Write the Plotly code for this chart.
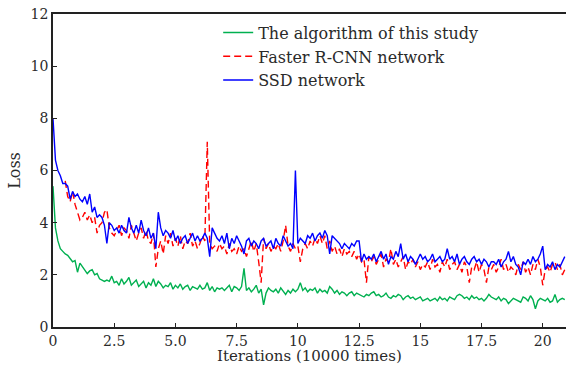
import plotly.graph_objects as go

# ---- data ----
step = 0.1
green_loss = [
    5.4, 3.8, 3.3, 3.0, 2.9, 2.8, 2.75, 2.6, 2.5, 2.55,
    2.1, 2.45, 2.3, 2.2, 2.05, 2.15, 2.2, 2.0, 2.05, 1.85,
    1.8, 1.75, 1.8, 1.75, 1.95, 1.7, 1.75, 1.6, 1.85, 1.65,
    1.75, 1.9, 1.6, 1.7, 1.8, 1.55, 1.65, 1.75, 1.5, 1.7,
    1.6, 1.85, 1.55, 1.75, 1.65, 1.5, 1.6, 1.55, 1.7, 1.45,
    1.6, 1.5, 1.65, 1.45, 1.55, 1.6, 1.4, 1.55, 1.5, 1.45,
    1.6, 1.45, 1.5, 1.7, 1.4, 1.55, 1.35, 1.5, 1.45, 1.5,
    1.4, 1.5, 1.6, 1.35, 1.55, 1.5, 1.4, 1.55, 2.25, 1.4,
    1.5, 1.35, 1.45, 1.6, 1.3, 1.45, 0.85, 1.3, 1.5, 1.4,
    1.35, 1.45, 1.3, 1.5, 1.35, 1.25, 1.4, 1.3, 1.45, 1.35,
    1.45, 1.7, 1.4, 1.5, 1.35, 1.45, 1.4, 1.5, 1.3, 1.45,
    1.35, 1.4, 1.3, 1.55, 1.45, 1.3, 1.4, 1.25, 1.35, 1.3,
    1.2, 1.3, 1.35, 1.2, 1.3, 1.25, 1.2, 1.15, 1.25, 1.2,
    1.3, 1.35, 1.2, 1.25, 1.15, 1.2, 1.3, 1.15, 1.1, 1.2,
    1.15, 1.25, 1.2, 1.05, 1.15, 1.2, 1.1, 1.15, 1.05, 1.1,
    1.15, 1.0, 1.05, 1.1, 1.0, 1.05, 1.1, 1.0, 1.15, 1.05,
    1.1, 1.0, 1.15, 1.1, 1.05, 1.2, 1.25, 1.2, 1.1, 1.15,
    1.05, 1.2, 1.1, 1.15, 1.05, 1.1, 1.0, 1.1, 1.25, 1.15,
    1.1, 1.05, 1.15, 1.0, 1.1, 1.05, 0.9, 1.0, 1.1, 1.05,
    1.0, 0.95, 1.15, 1.1, 1.0, 1.2, 1.05, 0.7, 1.0, 1.1,
    1.05, 1.0, 1.1, 0.95, 1.0, 1.25, 0.95, 1.05, 1.1, 1.05,
]
faster_start = 0.5
faster_loss = [
    5.6, 5.0, 4.8, 5.2, 4.7,
    4.4, 4.1, 4.2, 4.4, 4.1, 4.3, 4.0, 4.2, 3.6, 3.9,
    4.0, 4.4, 4.5, 3.8, 3.6, 3.5, 3.7, 3.9, 3.5, 3.8,
    3.7, 3.4, 3.9, 3.6, 3.3, 3.6, 3.8, 3.4, 3.7, 3.3,
    3.2, 3.6, 2.3, 3.0, 3.3, 2.8, 3.5, 3.2, 3.6, 3.1,
    3.4, 3.1, 3.5, 3.0, 3.3, 3.2, 3.6, 3.1, 3.3, 3.0,
    3.2, 3.5, 3.3, 7.1, 3.2, 3.0, 3.1, 2.9, 3.2, 3.0,
    3.1, 2.8, 3.2, 2.9, 3.0, 2.8, 3.1, 2.9, 3.0, 2.7,
    3.0, 3.3, 2.9, 3.2, 2.5, 1.7, 3.4, 3.0, 3.2, 2.9,
    3.1, 3.0, 3.2, 2.9, 3.3, 3.9, 3.1, 2.9, 3.2, 3.0,
    3.1, 2.5, 3.0, 3.2, 3.0, 3.3, 3.1, 3.4, 3.2, 3.5,
    3.2, 3.5, 3.0, 3.3, 2.9, 3.1, 2.8, 3.0, 2.7, 3.0,
    2.8, 2.9, 2.7, 2.9, 2.6, 2.8, 2.5, 2.6, 1.7, 2.7,
    2.5, 2.7, 2.4, 2.6, 2.8, 2.3, 2.6, 2.5, 3.0, 2.4,
    2.6, 2.3, 2.5, 2.7, 2.2, 2.5, 2.4, 2.6, 2.3, 2.5,
    2.2, 2.4, 2.3, 2.5, 2.2, 2.6, 2.3, 2.4, 2.1, 2.5,
    2.3, 2.6, 2.2, 2.4, 2.5, 2.2, 2.4, 2.1, 2.5, 2.3,
    1.7, 2.3, 2.2, 2.5, 2.1, 2.4, 2.2, 1.7, 2.3, 2.2,
    2.4, 2.1, 2.3, 2.6, 2.2, 2.4, 2.1, 2.3, 2.2, 2.0,
    2.4, 2.2, 2.5, 2.1, 2.3, 2.0, 2.4, 2.2, 2.6, 2.3,
    1.6, 2.2, 2.3, 2.1, 2.4, 2.5, 2.2, 2.4, 2.0, 2.2,
]
ssd_loss = [
    8.0, 6.4, 6.0, 5.8, 5.5, 5.5, 5.4, 4.9, 5.2, 5.0,
    5.1, 4.9, 4.8, 5.0, 4.7, 5.1, 4.4, 4.6, 4.2, 4.3,
    4.2, 3.9, 3.2, 4.0, 3.9, 3.7, 3.8, 3.6, 3.9, 3.7,
    3.6, 4.2, 3.8, 3.6, 3.9, 3.6, 4.1, 3.7, 3.5, 3.8,
    3.4, 3.6, 3.0, 4.4, 3.8, 3.5, 3.7, 3.6, 3.4, 3.7,
    3.3, 3.5, 3.2, 3.4, 3.5, 3.2, 3.4, 3.6, 3.3, 3.5,
    3.3, 3.4, 3.6, 3.4, 2.7, 3.8, 3.6, 3.4, 3.3, 3.5,
    3.2, 3.6, 3.0, 3.4, 3.2, 3.5, 3.3, 3.1, 2.8, 3.3,
    3.4, 3.1, 3.3, 3.2, 3.0, 3.3, 3.4, 3.1, 3.2, 3.3,
    3.0, 3.4, 3.2, 3.1, 3.5, 3.3, 3.1, 3.2, 3.0, 6.0,
    3.2, 3.4, 3.3, 3.2, 3.5, 3.4, 3.6, 3.3, 3.5, 3.6,
    3.4, 3.7, 3.5, 2.8, 3.5, 3.4, 3.3, 3.2, 3.0, 3.2,
    3.1, 3.0, 3.2, 3.1, 3.3, 3.3, 2.5, 2.8, 2.6, 2.7,
    2.6, 2.8, 2.5, 2.7, 2.9, 2.6, 2.8, 2.4, 2.7, 2.6,
    2.9, 2.7, 3.2, 2.6, 2.8, 2.5, 2.7, 2.6, 2.4, 2.6,
    2.8, 2.6, 2.7, 2.5, 2.6, 2.8, 2.5, 2.6, 2.7, 2.5,
    2.6, 3.0, 2.6, 2.7, 2.5, 2.8, 2.4, 2.6, 2.7, 2.5,
    2.4, 2.6, 2.7, 2.5, 2.6, 2.4, 2.6, 2.5, 2.3, 2.5,
    2.5, 2.4, 2.6, 2.3, 2.5, 2.6, 2.9, 2.5, 2.7, 2.4,
    2.3, 2.0, 2.5, 2.4, 2.6, 2.4, 2.7, 2.5, 2.6, 2.8,
    3.1, 2.2, 2.4, 2.3, 2.5, 2.2, 2.4, 2.3, 2.5, 2.7,
]
x_tick_vals = [0, 2.5, 5, 7.5, 10, 12.5, 15, 17.5, 20]
x_tick_text = ["0", "2.5", "5.0", "7.5", "10", "12.5", "15", "17.5", "20"]
y_tick_vals = [0, 2, 4, 6, 8, 10, 12]

x_main = [round(i * step, 2) for i in range(len(green_loss))]
x_faster = [round(faster_start + i * step, 2) for i in range(len(faster_loss))]

FONT = "DejaVu Serif"
TXT = "#2a2a2a"

fig = go.Figure()
fig.add_trace(go.Scatter(x=x_main, y=green_loss, mode="lines",
                         name="The algorithm of this study",
                         line=dict(color="#00b050", width=1.4)))
fig.add_trace(go.Scatter(x=x_faster, y=faster_loss, mode="lines",
                         name="Faster R-CNN network",
                         line=dict(color="#ff0000", width=1.4, dash="7px,4px")))
fig.add_trace(go.Scatter(x=x_main, y=ssd_loss, mode="lines",
                         name="SSD network",
                         line=dict(color="#0000ff", width=1.4)))

fig.update_layout(
    width=566, height=365,
    margin=dict(l=53, r=0, t=14, b=38),
    paper_bgcolor="white", plot_bgcolor="white",
    font=dict(family=FONT, size=14, color=TXT),
    showlegend=True,
    legend=dict(x=0.322, y=0.995, xanchor="left", yanchor="top",
                bgcolor="rgba(0,0,0,0)", font=dict(family=FONT, size=16, color=TXT),
                tracegroupgap=0, itemwidth=30),
    annotations=[dict(text="Iterations (10000 times)", xref="paper", yref="paper",
                      x=0.5, y=-0.094, xanchor="center", yanchor="middle",
                      showarrow=False, font=dict(family=FONT, size=15, color=TXT))],
)
fig.update_xaxes(range=[0, 20.95], tickvals=x_tick_vals, ticktext=x_tick_text,
                 showgrid=False, zeroline=False, showline=True, linecolor="#222",
                 linewidth=1.5, mirror=True, ticks="inside", ticklen=4, tickcolor="#222",
                 tickfont=dict(family=FONT, size=14, color=TXT))
fig.update_yaxes(range=[0, 12], tickvals=y_tick_vals,
                 showgrid=False, zeroline=False, showline=True, linecolor="#222",
                 linewidth=1.5, mirror=False, ticks="inside", ticklen=4, tickcolor="#222",
                 title=dict(text="Loss", standoff=6, font=dict(family=FONT, size=16, color=TXT)),
                 tickfont=dict(family=FONT, size=14, color=TXT))

fig.write_html("out.html")
